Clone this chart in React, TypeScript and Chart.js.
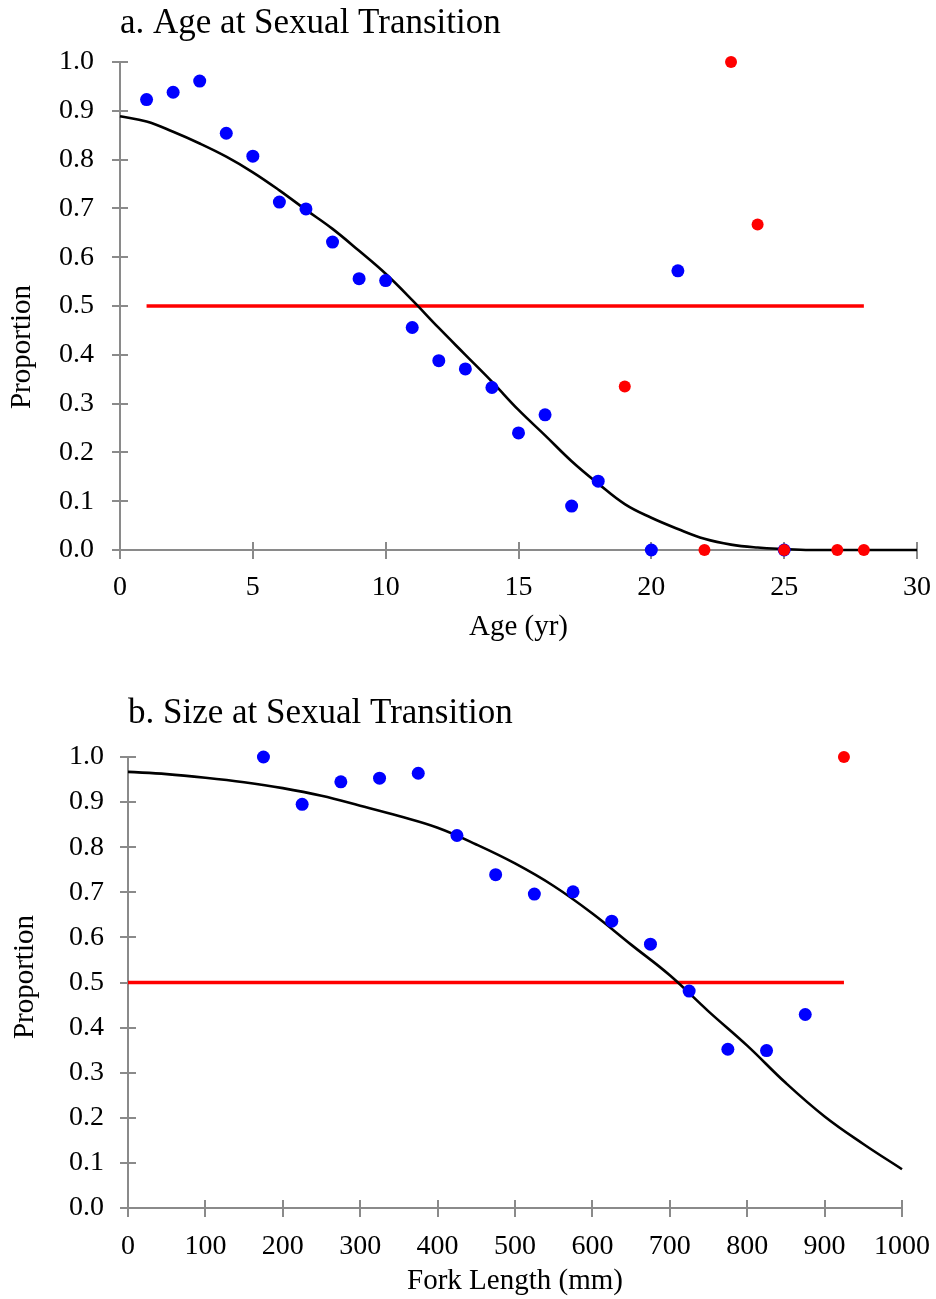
import React, { useEffect, useRef } from 'react';
import { Chart, registerables } from 'chart.js';

Chart.register(...registerables);

const FONT = "'Liberation Serif', 'Times New Roman', Times, serif";
const AXIS_COLOR = '#8a8a8a';

// ---- Panel a: Age at Sexual Transition ----
const ageBlueX = [1, 2, 3, 4, 5, 6, 7, 8, 9, 10, 11, 12, 13, 14, 15, 16, 17, 18, 20, 21, 25];
const ageBlueY = [0.923, 0.938, 0.961, 0.854, 0.807, 0.713, 0.699, 0.631, 0.556, 0.552, 0.456, 0.388, 0.371, 0.333, 0.240, 0.277, 0.090, 0.141, 0.0, 0.572, 0.0];
const ageRedX = [19, 22, 23, 24, 25, 27, 28];
const ageRedY = [0.335, 0.0, 1.0, 0.667, 0.0, 0.0, 0.0];
const ageCurveX = [0, 1, 2, 3, 4, 5, 6, 7, 8, 9, 10, 11, 12, 13, 14, 15, 16, 17, 18, 19, 20, 21, 22, 23, 24, 25, 26, 27, 28, 29, 30];
const ageCurveY = [0.889, 0.878, 0.857, 0.833, 0.806, 0.774, 0.737, 0.697, 0.658, 0.613, 0.566, 0.512, 0.455, 0.400, 0.345, 0.287, 0.235, 0.182, 0.136, 0.094, 0.066, 0.043, 0.023, 0.011, 0.005, 0.002, 0.0, 0.0, 0.0, 0.0, 0.0];
const ageHalfX = [1, 28];
const ageHalfY = [0.5, 0.5];

// ---- Panel b: Size at Sexual Transition ----
const sizeBlueX = [175, 225, 275, 325, 375, 425, 475, 525, 575, 625, 675, 725, 775, 825, 875];
const sizeBlueY = [1.0, 0.895, 0.945, 0.953, 0.964, 0.826, 0.739, 0.696, 0.701, 0.636, 0.585, 0.481, 0.352, 0.349, 0.429];
const sizeRedX = [925];
const sizeRedY = [1.0];
const sizeCurveX = [0, 50, 100, 150, 200, 250, 300, 350, 400, 450, 500, 550, 600, 650, 700, 750, 800, 850, 900, 950, 1000];
const sizeCurveY = [0.967, 0.962, 0.954, 0.944, 0.931, 0.914, 0.892, 0.869, 0.843, 0.806, 0.764, 0.714, 0.653, 0.584, 0.516, 0.436, 0.360, 0.277, 0.203, 0.142, 0.086];
const sizeHalfX = [0, 925];
const sizeHalfY = [0.5, 0.5];

const yTicksLabel = (v: number) => Number(v).toFixed(1);
const xTicksLabel = (v: number) => String(v);

const zip = (xs: number[], ys: number[]) => xs.map((x, i) => ({ x, y: ys[i] }));

const crossTicks = {
  id: 'crossTicks',
  beforeDatasetsDraw(chart: any) {
    const ctx = chart.ctx;
    const xs = chart.scales.x;
    const ys = chart.scales.y;
    const { left, bottom } = chart.chartArea;
    ctx.save();
    ctx.strokeStyle = AXIS_COLOR;
    ctx.lineWidth = 2;
    ctx.beginPath();
    ys.ticks.forEach((_t: any, i: number) => {
      const py = Math.round(ys.getPixelForTick(i));
      ctx.moveTo(left - 8, py);
      ctx.lineTo(left + 8, py);
    });
    xs.ticks.forEach((_t: any, i: number) => {
      const px = Math.round(xs.getPixelForTick(i));
      ctx.moveTo(px, bottom - 8);
      ctx.lineTo(px, bottom + 9);
    });
    ctx.stroke();
    ctx.restore();
  },
};

const yTitle = {
  id: 'yTitle',
  afterDraw(chart: any, _args: any, opts: any) {
    if (!opts || !opts.text) return;
    const ctx = chart.ctx;
    const py = chart.scales.y.getPixelForValue(opts.center);
    ctx.save();
    ctx.translate(opts.x, py);
    ctx.rotate(-Math.PI / 2);
    ctx.font = `29px ${FONT}`;
    ctx.fillStyle = '#000';
    ctx.textAlign = 'center';
    ctx.textBaseline = 'middle';
    ctx.fillText(opts.text, 0, 0);
    ctx.restore();
  },
};

interface PanelSpec {
  title: string;
  xTitle: string;
  yTitleCenter: number;
  yTitleX: number;
  xMax: number;
  xStep: number;
  blue: { x: number; y: number }[];
  red: { x: number; y: number }[];
  curve: { x: number; y: number }[];
  half: { x: number; y: number }[];
  yWidth: number;
  xHeight: number;
  padRight: number;
  titlePadTop: number;
  titlePadBottom: number;
  yLabelPad: number;
  xLabelPad: number;
  xTitlePadBottom: number;
}

function makeConfig(p: PanelSpec): any {
  return {
    type: 'scatter',
    data: {
      datasets: [
        { data: p.red, backgroundColor: '#ff0000', borderColor: '#ff0000', pointRadius: 6, pointBorderWidth: 0, order: 1, clip: false },
        { data: p.blue, backgroundColor: '#0000ff', borderColor: '#0000ff', pointRadius: 6.5, pointBorderWidth: 0, order: 2, clip: false },
        { data: p.curve, showLine: true, borderColor: '#000000', borderWidth: 2.6, pointRadius: 0, tension: 0.4, fill: false, order: 3, clip: false },
        { data: p.half, showLine: true, borderColor: '#ff0000', borderWidth: 3.5, pointRadius: 0, fill: false, order: 4, clip: false },
      ],
    },
    options: {
      responsive: false,
      animation: false,
      events: [],
      layout: { padding: { left: 0, right: p.padRight, top: 0, bottom: 0 } },
      plugins: {
        legend: { display: false },
        tooltip: { enabled: false },
        title: {
          display: true,
          text: p.title,
          align: 'start',
          fullSize: false,
          color: '#000',
          font: { family: FONT, size: 35, weight: 'normal' },
          padding: { top: p.titlePadTop, bottom: p.titlePadBottom },
        },
        yTitle: { text: 'Proportion', center: p.yTitleCenter, x: p.yTitleX },
      },
      scales: {
        x: {
          type: 'linear',
          min: 0,
          max: p.xMax,
          grid: { display: false, drawTicks: false },
          border: { display: true, color: AXIS_COLOR, width: 2 },
          ticks: { stepSize: p.xStep, color: '#000', padding: p.xLabelPad, maxRotation: 0, callback: xTicksLabel, font: { family: FONT, size: 28 } },
          title: { display: true, text: p.xTitle, color: '#000', font: { family: FONT, size: 29 }, padding: { top: 0, bottom: p.xTitlePadBottom } },
          afterFit: (s: any) => { s.height = p.xHeight; s.paddingLeft = 0; s.paddingRight = 0; },
        },
        y: {
          type: 'linear',
          min: 0,
          max: 1,
          grid: { display: false, drawTicks: false },
          border: { display: true, color: AXIS_COLOR, width: 2 },
          ticks: { stepSize: 0.1, color: '#000', padding: p.yLabelPad, callback: yTicksLabel, font: { family: FONT, size: 28 } },
          afterFit: (s: any) => { s.width = p.yWidth; s.paddingTop = 0; s.paddingBottom = 0; },
        },
      },
    },
    plugins: [crossTicks, yTitle],
  };
}

function Panel({ spec, top, height }: { spec: PanelSpec; top: number; height: number }) {
  const ref = useRef<HTMLCanvasElement | null>(null);
  useEffect(() => {
    if (!ref.current) return;
    const chart = new Chart(ref.current, makeConfig(spec));
    return () => chart.destroy();
  }, [spec]);
  return (
    <canvas
      ref={ref}
      width={936}
      height={height}
      style={{ position: 'absolute', left: 0, top, width: 936, height }}
    />
  );
}

const specA: PanelSpec = {
  title: 'a. Age at Sexual Transition',
  xTitle: 'Age (yr)',
  yTitleCenter: 0.416,
  yTitleX: 22,
  xMax: 30,
  xStep: 5,
  blue: zip(ageBlueX, ageBlueY),
  red: zip(ageRedX, ageRedY),
  curve: zip(ageCurveX, ageCurveY),
  half: zip(ageHalfX, ageHalfY),
  yWidth: 120,
  xHeight: 100,
  padRight: 19,
  titlePadTop: 2.5,
  titlePadBottom: 17.5,
  yLabelPad: 26,
  xLabelPad: 21,
  xTitlePadBottom: 5,
};

const specB: PanelSpec = {
  title: 'b. Size at Sexual Transition',
  xTitle: 'Fork Length (mm)',
  yTitleCenter: 0.512,
  yTitleX: 25,
  xMax: 1000,
  xStep: 100,
  blue: zip(sizeBlueX, sizeBlueY),
  red: zip(sizeRedX, sizeRedY),
  curve: zip(sizeCurveX, sizeCurveY),
  half: zip(sizeHalfX, sizeHalfY),
  yWidth: 128,
  xHeight: 91,
  padRight: 34,
  titlePadTop: 42.5,
  titlePadBottom: 22.5,
  yLabelPad: 24,
  xLabelPad: 22,
  xTitlePadBottom: 0,
};

export default function App() {
  return (
    <div style={{ position: 'absolute', left: 0, top: 0, width: 936, height: 1299, background: '#fff' }}>
      <Panel spec={specA} top={0} height={650} />
      <Panel spec={specB} top={650} height={649} />
    </div>
  );
}
